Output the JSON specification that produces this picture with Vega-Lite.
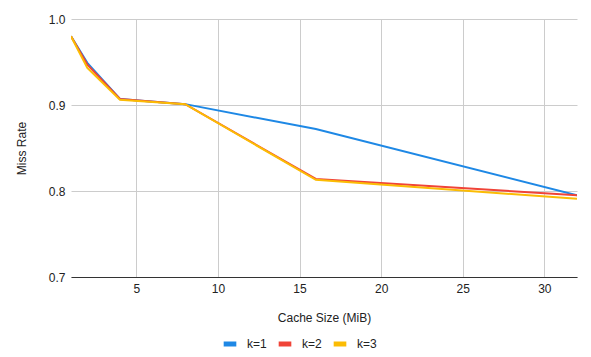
{
  "$schema": "https://vega.github.io/schema/vega-lite/v6.json",
  "width": 506,
  "height": 258,
  "autosize": {"type": "none"},
  "padding": {"left": 71, "top": 19, "right": 14, "bottom": 80},
  "background": "white",
  "config": {
    "font": "Liberation Sans",
    "view": {"stroke": null},
    "axis": {"labelFont": "Liberation Sans", "titleFont": "Liberation Sans", "labelColor": "#222222", "titleColor": "#222222", "labelFontSize": 12, "titleFontSize": 12, "titleFontWeight": "normal", "gridColor": "#cccccc", "ticks": false},
    "legend": {"labelFont": "Liberation Sans", "labelFontSize": 12, "labelColor": "#222222"}
  },
  "data": {
    "values": [
      {"size": 1, "miss": 0.980, "k": "k=1"},
      {"size": 2, "miss": 0.949, "k": "k=1"},
      {"size": 4, "miss": 0.907, "k": "k=1"},
      {"size": 8, "miss": 0.901, "k": "k=1"},
      {"size": 16, "miss": 0.872, "k": "k=1"},
      {"size": 32, "miss": 0.795, "k": "k=1"},
      {"size": 1, "miss": 0.980, "k": "k=2"},
      {"size": 2, "miss": 0.947, "k": "k=2"},
      {"size": 4, "miss": 0.907, "k": "k=2"},
      {"size": 8, "miss": 0.901, "k": "k=2"},
      {"size": 16, "miss": 0.814, "k": "k=2"},
      {"size": 32, "miss": 0.795, "k": "k=2"},
      {"size": 1, "miss": 0.980, "k": "k=3"},
      {"size": 2, "miss": 0.943, "k": "k=3"},
      {"size": 4, "miss": 0.906, "k": "k=3"},
      {"size": 8, "miss": 0.901, "k": "k=3"},
      {"size": 16, "miss": 0.813, "k": "k=3"},
      {"size": 32, "miss": 0.791, "k": "k=3"}
    ]
  },
  "mark": {"type": "line", "strokeWidth": 2, "clip": true},
  "encoding": {
    "x": {
      "field": "size", "type": "quantitative",
      "scale": {"domain": [1, 32], "nice": false, "zero": false},
      "axis": {"title": "Cache Size (MiB)", "values": [5, 10, 15, 20, 25, 30], "domain": true, "domainColor": "#333333", "labelPadding": 6, "titlePadding": 18}
    },
    "y": {
      "field": "miss", "type": "quantitative",
      "scale": {"domain": [0.7, 1.0], "nice": false, "zero": false},
      "axis": {"title": "Miss Rate", "values": [0.7, 0.8, 0.9, 1.0], "format": ".1f", "domain": false, "labelPadding": 6, "titlePadding": 20}
    },
    "color": {
      "field": "k", "type": "nominal",
      "scale": {"domain": ["k=1", "k=2", "k=3"], "range": ["#1e88e5", "#f04438", "#fbbc04"]},
      "legend": {"title": null, "orient": "none", "legendX": 150, "legendY": 316, "direction": "horizontal", "symbolType": "stroke", "symbolSize": 160, "symbolStrokeWidth": 5, "labelOffset": 8, "columnPadding": 1}
    },
    "order": {"field": "k"}
  }
}
